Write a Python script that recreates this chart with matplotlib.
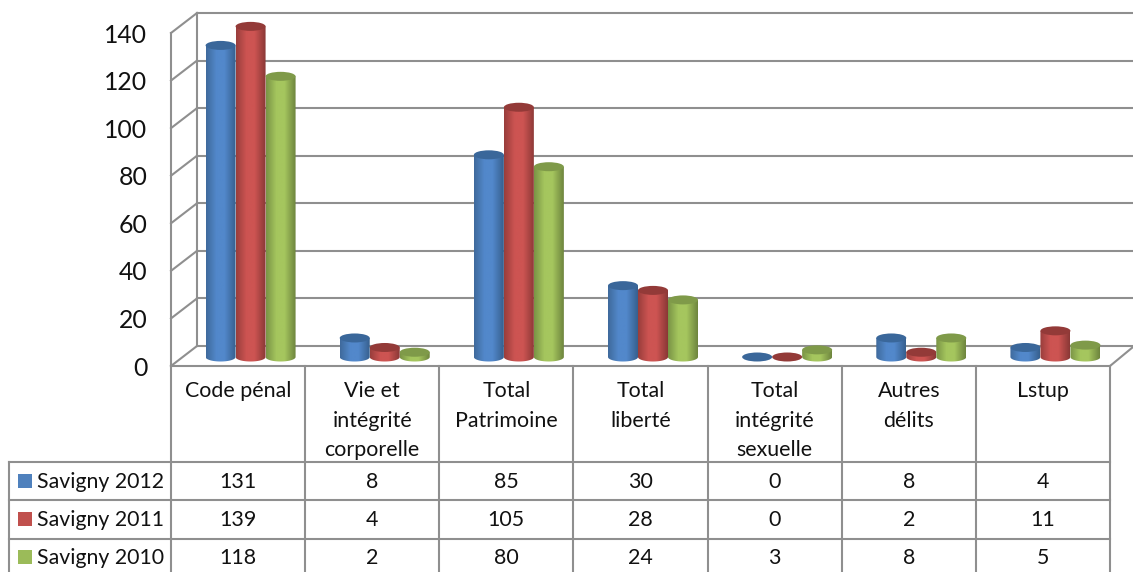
import numpy as np
import matplotlib
matplotlib.use('Agg')
import matplotlib.pyplot as plt
from matplotlib.colors import LinearSegmentedColormap
from matplotlib.patches import Ellipse, Polygon

categories = ['Code pénal', 'Vie et\nintégrité\ncorporelle', 'Total\nPatrimoine', 'Total\nliberté',
              'Total\nintégrité\nsexuelle', 'Autres\ndélits', 'Lstup']
series_names = ['Savigny 2012', 'Savigny 2011', 'Savigny 2010']
savigny_2012 = [131, 8, 85, 30, 0, 8, 4]
savigny_2011 = [139, 4, 105, 28, 0, 2, 11]
savigny_2010 = [118, 2, 80, 24, 3, 8, 5]
y_ticks = [0, 20, 40, 60, 80, 100, 120, 140]

# dark edge, light middle, dark edge, top of the cylinder
colors = [('#3f6a9c', '#5288cb', '#37608f', '#3a679a'),
          ('#993e3c', '#cd5452', '#8a3836', '#933a38'),
          ('#7a9446', '#a5c65e', '#6e853e', '#7f9a49')]
solid = ['#4f81bd', '#c0504d', '#9bbb59']
grid_col = '#8f8f8f'
text_col = '#111111'

plt.rcParams['font.family'] = ['Lato', 'DejaVu Sans']

W, H = 1133, 572
fig = plt.figure(figsize=(W / 100, H / 100), dpi=100)

# frame and table, in pixels
frame = fig.add_axes([0, 0, 1, 1])
frame.set_xlim(0, W)
frame.set_ylim(H, 0)
frame.axis('off')

x0, x1 = 171, 1110
y_top, y_bot = 33, 366
dx, dy = 26, 20
cell = (x1 - x0) / 7
lw = 1.5

# walls and gridlines
for v in y_ticks:
    y = y_bot - v * (y_bot - y_top) / 140
    frame.plot([x0, x0 + dx], [y, y - dy], color=grid_col, lw=lw)
    frame.plot([x0 + dx, W], [y - dy, y - dy], color=grid_col, lw=lw)
frame.plot([x0, x0], [y_top, y_bot], color=grid_col, lw=lw)
frame.plot([x0 + dx, x0 + dx], [y_top - dy, y_bot - dy], color=grid_col, lw=lw)
frame.plot([x1, x1 + 23], [y_bot, y_bot - 19], color=grid_col, lw=lw)

# table lines
row_y = [462, 500, 539]
frame.plot([x0, x1], [y_bot, y_bot], color=grid_col, lw=lw)
for y in row_y:
    frame.plot([9, x1], [y, y], color=grid_col, lw=lw)
frame.plot([9, 9], [row_y[0], H], color=grid_col, lw=lw)
for i in range(8):
    xl = x0 + i * cell
    frame.plot([xl, xl], [y_bot, H], color=grid_col, lw=lw)

# category labels and table values
for i, name in enumerate(categories):
    xc = x0 + (i + 0.5) * cell
    for j, line in enumerate(name.split('\n')):
        frame.text(xc, [391, 421, 450][j], line, ha='center', va='center', fontsize=15.4, color=text_col)

rows = [savigny_2012, savigny_2011, savigny_2010]
for r, vals in enumerate(rows):
    yc = [481, 519, 557][r]
    frame.add_patch(plt.Rectangle((18, yc - 7), 14, 14, color=solid[r], lw=0))
    frame.text(37, yc + 1, series_names[r], ha='left', va='center', fontsize=15.3, color=text_col)
    for i, v in enumerate(vals):
        frame.text(x0 + (i + 0.5) * cell, yc + 1, str(v), ha='center', va='center', fontsize=15.4, color=text_col)

# chart axes: categories along x, values along y (headroom above 140 so tall bars are not cut)
y_max = 150
per_unit = (y_bot - y_top) / 140
ax = fig.add_axes([x0 / W, 1 - y_bot / H, (x1 - x0) / W, y_max * per_unit / H])
ax.patch.set_alpha(0)
for s in ax.spines.values():
    s.set_visible(False)
ax.set_xticks([])
ax.set_yticks(y_ticks)
ax.set_yticklabels([str(t) for t in y_ticks], fontsize=17.8, color=text_col)
ax.tick_params(axis='y', length=0, pad=17)

px_x = 1 / cell
px_y = 1 / per_unit
rx = 15 * px_x
ry = 4.5 * px_y
base = 9 * px_y
shift = 12.5 * px_x
bar_w = 30 * px_x


def cylinder(xc, v, cols):
    top = base + v
    t = np.linspace(0, np.pi, 40)
    outline = np.column_stack([xc - rx * np.cos(t), base - ry * np.sin(t)])
    outline = np.vstack([outline, [xc + rx, top], [xc - rx, top]])
    cmap = LinearSegmentedColormap.from_list('c', [(0, cols[0]), (0.35, cols[1]), (0.62, cols[1]), (1, cols[2])])
    if v > 0:
        im = ax.imshow(np.linspace(0, 1, 64).reshape(1, -1), extent=[xc - rx, xc + rx, base - ry, top],
                       cmap=cmap, aspect='auto', interpolation='bilinear', zorder=3)
        body = Polygon(outline, closed=True, transform=ax.transData, fc='none', ec='none')
        ax.add_patch(body)
        im.set_clip_path(body)
    ax.add_patch(Ellipse((xc, top), 2 * rx, 2 * ry, fc=cols[3], ec='none', zorder=3))


for i in range(len(categories)):
    for r, vals in enumerate(rows):
        cylinder(i + shift + (r - 1) * bar_w, vals[i], colors[r])

ax.set_xlim(-0.5, 6.5)
ax.set_ylim(0, y_max)

fig.savefig('out.png', dpi=100)
